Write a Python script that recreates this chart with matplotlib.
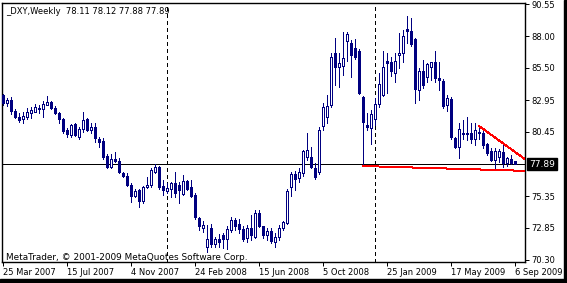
import numpy as np
import pandas as pd
import matplotlib
matplotlib.use('Agg')
import matplotlib.pyplot as plt
import matplotlib.transforms as mtransforms
from matplotlib.patches import Rectangle

# weekly _DXY candles, first bar = week of 25 Mar 2007
opens = [83.36, 82.75, 82.96, 82.09, 81.59, 81.48, 81.64, 81.95, 82.03, 82.27,
         82.27, 82.59, 82.83, 82.35, 81.91, 81.46, 80.58, 80.19, 81.06, 80.05,
         80.66, 81.46, 80.58, 80.80, 79.87, 79.71, 78.52, 77.63, 78.29, 78.15,
         77.15, 76.94, 76.23, 75.38, 75.83, 74.98, 76.05, 76.23, 77.23, 77.68,
         76.15, 75.78, 75.89, 76.36, 76.23, 75.52, 76.57, 76.05, 75.44, 73.59,
         72.80, 71.34, 72.80, 71.53, 71.93, 72.27, 71.93, 72.66, 73.46, 73.14,
         72.74, 72.03, 72.82, 72.11, 74.01, 72.98, 72.27, 72.59, 71.71, 72.11,
         72.82, 73.22, 76.07, 77.10, 76.78, 77.18, 78.45, 78.47, 77.55, 77.28,
         80.90, 81.64, 82.56, 86.66, 85.55, 85.65, 87.66, 87.50, 87.05, 86.86,
         83.17, 80.98, 80.72, 81.43, 82.62, 83.36, 86.05, 85.99, 85.07, 86.52,
         86.66, 88.56, 88.45, 87.75, 83.75, 85.26, 84.76, 85.55, 85.95, 84.68,
         84.49, 82.56, 83.04, 79.93, 79.21, 80.27, 80.37, 80.37, 79.85, 80.45,
         80.32, 79.48, 78.94, 78.21, 78.47, 78.87, 77.95, 78.26, 78.11]
highs = [83.44, 83.14, 83.17, 82.22, 81.95, 81.99, 82.30, 82.43, 82.62, 82.56,
         82.90, 83.28, 82.90, 82.49, 81.99, 81.56, 80.72, 81.06, 81.11, 80.85,
         82.03, 81.51, 81.11, 81.16, 80.01, 79.93, 78.68, 78.68, 78.82, 78.34,
         77.28, 77.15, 76.36, 75.91, 75.89, 76.15, 76.84, 77.55, 77.89, 77.73,
         76.62, 76.36, 76.49, 77.28, 76.49, 77.02, 76.62, 76.62, 75.57, 73.72,
         73.38, 73.06, 73.14, 72.13, 72.35, 72.40, 72.98, 73.72, 73.61, 73.54,
         72.98, 73.06, 73.85, 74.25, 74.25, 72.98, 72.82, 72.82, 72.43, 73.06,
         73.38, 75.91, 77.26, 77.34, 77.57, 79.00, 80.35, 79.26, 77.97, 80.85,
         82.72, 83.36, 86.68, 87.87, 86.68, 88.37, 88.37, 87.71, 87.77, 86.98,
         83.28, 81.93, 82.17, 83.12, 85.10, 86.86, 86.66, 86.39, 86.71, 88.24,
         88.50, 89.61, 89.45, 87.87, 85.49, 86.13, 85.89, 85.99, 86.84, 85.99,
         84.62, 83.36, 83.20, 80.05, 81.11, 81.38, 81.64, 81.11, 81.11, 80.90,
         80.58, 79.58, 79.13, 79.13, 79.06, 79.53, 78.47, 78.60, 78.12]
lows = [82.56, 82.51, 81.85, 81.51, 81.22, 81.16, 81.43, 81.56, 81.99, 81.91,
        81.64, 82.56, 82.25, 81.83, 81.16, 80.37, 80.05, 80.01, 80.11, 79.85,
        80.45, 80.53, 80.32, 79.66, 79.26, 78.29, 77.55, 77.55, 78.07, 77.20,
        76.84, 76.15, 74.91, 75.30, 74.46, 74.78, 75.97, 76.09, 77.15, 75.89,
        75.44, 75.57, 75.25, 75.30, 74.78, 75.44, 75.83, 75.30, 73.51, 72.66,
        72.53, 70.92, 71.32, 71.32, 71.32, 71.22, 71.14, 72.51, 72.66, 72.43,
        71.79, 71.71, 71.87, 72.07, 72.90, 72.03, 71.87, 71.63, 71.32, 71.87,
        72.66, 73.14, 75.36, 75.83, 76.47, 76.94, 78.21, 77.55, 76.70, 77.10,
        80.58, 81.14, 82.41, 84.15, 83.99, 84.94, 86.07, 84.76, 86.18, 83.44,
        77.73, 80.58, 79.48, 80.98, 82.43, 83.28, 83.54, 84.86, 84.41, 85.47,
        85.97, 87.45, 87.20, 82.72, 82.96, 83.91, 84.39, 84.54, 84.39, 83.75,
        82.33, 82.09, 79.87, 79.13, 78.34, 79.85, 79.79, 79.53, 79.40, 79.87,
        79.13, 78.60, 78.15, 77.42, 78.07, 77.68, 77.73, 77.89, 77.88]
closes = [82.72, 82.96, 82.11, 81.64, 81.38, 81.69, 82.03, 82.17, 82.43, 82.33,
          82.64, 82.83, 82.30, 81.91, 81.43, 80.53, 80.24, 80.98, 80.19, 80.64,
          81.38, 80.58, 80.80, 79.93, 79.61, 78.47, 77.68, 78.29, 78.15, 77.28,
          76.94, 76.23, 75.36, 75.75, 74.98, 76.09, 76.23, 77.42, 77.68, 76.09,
          75.83, 75.97, 76.41, 75.57, 75.83, 76.57, 75.89, 75.38, 73.67, 72.98,
          73.06, 71.93, 71.53, 71.93, 71.74, 71.93, 72.72, 73.46, 72.98, 72.74,
          71.95, 72.82, 72.27, 74.01, 72.98, 72.27, 72.59, 71.79, 72.11, 72.82,
          73.30, 75.75, 77.10, 76.70, 77.26, 78.92, 79.00, 77.68, 76.89, 80.58,
          82.41, 82.49, 86.34, 85.60, 85.91, 86.26, 88.19, 86.52, 86.39, 83.54,
          81.24, 80.85, 81.85, 82.62, 84.23, 85.55, 85.91, 85.28, 86.05, 86.66,
          88.03, 88.45, 87.36, 83.81, 85.26, 84.15, 85.81, 85.95, 84.68, 84.54,
          82.49, 83.12, 80.03, 79.21, 80.64, 80.37, 80.27, 79.85, 80.58, 80.32,
          79.40, 78.79, 78.21, 78.94, 78.92, 78.00, 78.34, 78.00, 77.89]

price_ticks = [90.55, 88.00, 85.50, 82.95, 80.45, 75.35, 72.85, 70.30]
# trendlines: (bar, price) anchors
support = [(90, 77.73), (123, 77.42)]
resist = [(119, 80.90), (125, 79.53)]

opens = np.array(opens)
highs = np.array(highs)
lows = np.array(lows)
closes = np.array(closes)
dates = pd.date_range('2007-03-25', periods=len(closes), freq='7D')

plt.rcParams['font.family'] = ['DejaVu Sans']
plt.rcParams['font.size'] = 6

W, H = 567, 283
LW = 0.72  # one pixel at 100 dpi
fig = plt.figure(figsize=(W / 100, H / 100), dpi=100)
ax = fig.add_axes([2 / W, 21 / H, 523 / W, 259 / H])
navy = '#000080'

x = np.arange(len(closes))
up = closes > opens
ax.vlines(x, lows, highs, color=navy, lw=LW, zorder=2, antialiased=False)
ax.bar(x[up], closes[up] - opens[up], bottom=opens[up], width=0.5,
       facecolor='white', edgecolor=navy, lw=LW, zorder=3, antialiased=False)
ax.bar(x[~up], opens[~up] - closes[~up], bottom=closes[~up], width=0.5,
       facecolor=navy, edgecolor=navy, lw=LW, zorder=3, antialiased=False)

x0, x1 = -0.25, 130.5
ax.set_xlim(x0, x1)
ax.set_ylim(70.13, 90.64)

# year separators
for i in range(1, len(dates)):
    if dates[i].year != dates[i - 1].year:
        ax.axvline(i, color='black', lw=LW, ls=(0, (4, 3)), zorder=1, antialiased=False)

# current price line
last = closes[-1]
ax.axhline(last, color='black', lw=LW, zorder=1, antialiased=False)

# red trendlines
def ray(p, color='red'):
    (a, pa), (b, pb) = p
    k = (pb - pa) / (b - a)
    ax.plot([a, x1], [pa, pa + k * (x1 - a)], color=color, lw=LW, zorder=4,
            antialiased=False)

ray(support)
ray(resist)

# axes
for s in ax.spines.values():
    s.set_color('black')
    s.set_linewidth(LW * 1.4)
ax.yaxis.tick_right()
ax.set_yticks(price_ticks)
ax.set_yticklabels(['%.2f' % v for v in price_ticks])
ax.tick_params(axis='y', length=3, width=LW, pad=1.5, colors='black')

pos = list(range(0, len(dates), 16))
ax.set_xticks(pos)
ax.set_xticklabels(['%d %s' % (dates[i].day, dates[i].strftime('%b %Y')) for i in pos],
                   ha='left')
ax.tick_params(axis='x', length=3, width=LW, pad=1.5, colors='black')

tr = mtransforms.blended_transform_factory(ax.transAxes, ax.transData)
ax.text(1.008, last, '%.2f' % last, transform=tr, color='white', va='center', ha='left',
        fontsize=6.5, bbox=dict(boxstyle='square,pad=0.2', facecolor='black', edgecolor='black'))

ax.text(4 / 523, 1 - 8 / 259, '_DXY,Weekly  %.2f %.2f %.2f %.2f' % (opens[-1], highs[-1], lows[-1], closes[-1]),
        transform=ax.transAxes, va='center', ha='left')
ax.text(4 / 523, 5 / 259, 'MetaTrader, \u00a9 2001-2009 MetaQuotes Software Corp.',
        transform=ax.transAxes, va='center', ha='left', fontsize=6.4)

# window frame on right and bottom
fig.patches.append(Rectangle((0, 0), 1, 4 / H, transform=fig.transFigure, color='black'))
fig.patches.append(Rectangle((1 - 3 / W, 0), 3 / W, 1, transform=fig.transFigure, color='black'))

fig.savefig('out.png', dpi=100, facecolor='white')
